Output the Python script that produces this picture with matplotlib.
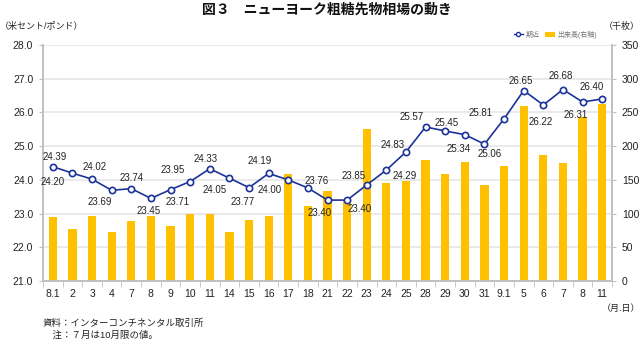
import matplotlib
matplotlib.use("Agg")
import matplotlib.pyplot as plt
import numpy as np
from matplotlib.lines import Line2D
from matplotlib.patches import Patch

plt.rcParams['font.family'] = ['Liberation Sans', 'Noto Sans CJK JP']

DATES = ['8.1', '2', '3', '4', '7', '8', '9', '10', '11', '14', '15', '16', '17', '18',
         '21', '22', '23', '24', '25', '28', '29', '30', '31', '9.1', '5', '6', '7', '8', '11']
PRICE = [24.39, 24.20, 24.02, 23.69, 23.74, 23.45, 23.71, 23.95, 24.33, 24.05, 23.77,
         24.19, 24.00, 23.76, 23.40, 23.40, 23.85, 24.29, 24.83, 25.57, 25.45, 25.34,
         25.06, 25.81, 26.65, 26.22, 26.68, 26.31, 26.40]
VOLUME = [95, 77, 96, 73, 89, 97, 81, 100, 100, 73, 91, 96, 159, 111, 133, 118, 225,
          146, 148, 180, 158, 177, 143, 171, 260, 187, 175, 243, 263]

# label offsets in pixels (dx, dy), y up
LABEL_OFFSETS = [(2, 10), (-20, -9), (3, 12), (-12, -12), (0, 11), (-2, -13), (7, -12),
                 (-17, 12), (-4, 10), (-15, -12), (-6, -14), (-9, 12), (-19, -10), (9, 7),
                 (-8, -13), (13, -9), (-13, 9), (18, -6), (-13, 7), (-14, 10), (1, 8),
                 (-6, -14), (5, -10), (-23, 6), (-3, 10), (-3, -17), (-2, 14), (-7, -13),
                 (-11, 12)]

LINE_COLOR = '#1c3399'
BAR_COLOR = '#ffc000'
GRID_COLOR = '#e6e6e6'
SPINE_COLOR = '#c0c0c0'

fig = plt.figure(figsize=(6.4, 3.41), dpi=100)
ax2 = fig.add_axes([43 / 640, 1 - 281 / 341, (612 - 43) / 640, 236 / 341])
ax1 = ax2.twinx()
ax1.yaxis.tick_left()
ax2.yaxis.tick_right()
ax1.set_zorder(ax2.get_zorder() + 1)
ax1.patch.set_visible(False)

x = np.arange(len(DATES))
ax2.bar(x, VOLUME, width=0.42, color=BAR_COLOR, zorder=2)
ax2.set_ylim(0, 350)
ax2.set_yticks(np.arange(0, 351, 50))
ax2.grid(axis='y', color=GRID_COLOR, linewidth=1.2, zorder=0)
ax2.set_axisbelow(True)

ax1.plot(x, PRICE, color=LINE_COLOR, linewidth=1.2, marker='o', markersize=4.5,
         markerfacecolor='white', markeredgecolor=LINE_COLOR, markeredgewidth=1.2)
ax1.set_ylim(21, 28)
ax1.set_yticks(np.arange(21, 28.1, 1))
ax1.set_yticklabels([f'{v:.1f}' for v in np.arange(21, 28.1, 1)])

for xi, p, (dx, dy) in zip(x, PRICE, LABEL_OFFSETS):
    ax1.annotate(f'{p:.2f}', (xi, p), xytext=(dx, dy), textcoords='offset pixels',
                 ha='center', va='center', fontsize=7, color='#222222')

ax2.set_xlim(-0.5, len(DATES) - 0.5)
ax2.set_xticks(x)
ax2.set_xticklabels(DATES)
ax2.set_xticks(np.arange(-0.5, len(DATES)), minor=True)
ax2.tick_params(axis='x', which='major', length=0, pad=5.5, labelsize=7.5, colors='#222222')
ax2.tick_params(axis='x', which='minor', length=4, color=SPINE_COLOR)
ax2.tick_params(axis='y', length=3, color=SPINE_COLOR, labelsize=7.5, labelcolor='#222222', pad=4)
ax1.tick_params(axis='y', length=3, color=SPINE_COLOR, labelsize=7.5, labelcolor='#222222', pad=4)

for a in (ax1, ax2):
    a.spines['top'].set_visible(False)
    for s in ('left', 'right', 'bottom'):
        a.spines[s].set_color(SPINE_COLOR)
        a.spines[s].set_linewidth(1.2)

fig.text(327 / 640, 1 - 10 / 341, '図３　ニューヨーク粗糖先物相場の動き', ha='center', va='center',
         fontsize=10, fontweight='bold', color='#111111')
fig.text(0.0, 1 - 26 / 341, '（米セント/ポンド）', ha='left', va='center', fontsize=6.5, color='#222222')
fig.text(1.0, 1 - 26 / 341, '（千枚）', ha='right', va='center', fontsize=6.5, color='#222222')
fig.text(1.0, 1 - 308 / 341, '（月.日）', ha='right', va='center', fontsize=6.5, color='#222222')
fig.text(43 / 640, 1 - 323 / 341, '資料：インターコンチネンタル取引所', ha='left', va='center',
         fontsize=6.8, color='#222222')
fig.text(43 / 640, 1 - 335 / 341, '　注：７月は10月限の値。', ha='left', va='center',
         fontsize=6.8, color='#222222')

handles = [Line2D([], [], color=LINE_COLOR, linewidth=1, marker='o', markersize=3,
                  markerfacecolor='white', markeredgecolor=LINE_COLOR),
           Patch(facecolor=BAR_COLOR)]
fig.legend(handles, ['期近', '出来高(右軸)'], loc='center', bbox_to_anchor=(555 / 640, 1 - 35 / 341),
           ncol=2, frameon=False, fontsize=5, labelcolor='#777777', handlelength=1.4,
           handleheight=0.8, columnspacing=0.8, handletextpad=0.3)

fig.savefig('out.png', dpi=100)
